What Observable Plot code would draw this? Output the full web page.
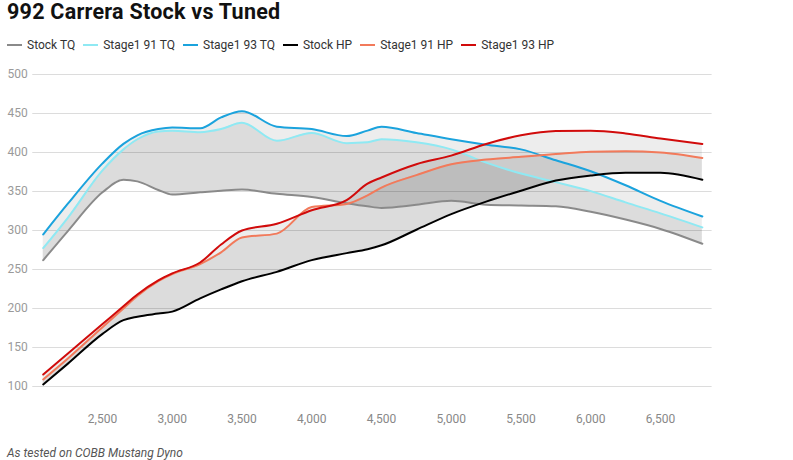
<!DOCTYPE html>
<html>
<head>
<meta charset="utf-8">
<script src="https://cdn.jsdelivr.net/npm/d3@7"></script>
<script src="https://cdn.jsdelivr.net/npm/@observablehq/plot@0.6"></script>
<style>
  html, body { margin: 0; padding: 0; background: #fff; font-family: Roboto, "Noto Sans", sans-serif; }
  #wrap { position: relative; width: 793px; height: 460px; overflow: hidden; }
  #title { position: absolute; left: 7px; top: -1px; font-size: 21.5px; font-weight: 700; color: #111; letter-spacing: 0.25px; }
  #legend { position: absolute; left: 7px; top: 38px; display: flex; font-size: 12px; color: #333; }
  .item { display: flex; align-items: center; margin-right: 8px; }
  .sw { width: 15px; height: 2.5px; margin-right: 5px; }
  #chart { position: absolute; left: 0; top: 60px; }
  #caption { position: absolute; left: 7px; top: 446px; font-size: 12px; font-style: italic; color: #555; }
</style>
</head>
<body>
<div id="wrap">
  <div id="title">992 Carrera Stock vs Tuned</div>
  <div id="legend"></div>
  <div id="chart"></div>
  <div id="caption">As tested on COBB Mustang Dyno</div>
</div>
<script>
const rpm      = [2075, 2250, 2500, 2650, 2750, 2900, 3000, 3200, 3350, 3500, 3750, 4000, 4250, 4400, 4500, 4750, 5000, 5250, 5500, 5750, 6000, 6250, 6500, 6800];
const stockTQ  = [262, 299, 349, 365, 363, 352, 346, 349, 351, 352.5, 347, 343, 335, 331, 329, 333, 338, 333, 332, 331, 324, 314, 302, 283];
const s91TQ    = [277.5, 316, 377, 404, 417, 427, 428, 426, 430, 438, 415, 425, 412, 413, 417, 413, 404, 387, 373, 362, 350.5, 336, 322, 304];
const s93TQ    = [295, 334, 386, 411, 422, 430, 432, 431, 445, 453, 433, 430, 421, 428, 433, 425, 417, 410, 404, 390, 376, 358, 338, 318];
const stockHP  = [102.6, 129, 167.5, 185, 189.5, 193.5, 196, 213, 224.5, 235, 247, 262, 271, 276, 281, 301, 321, 337, 351, 364, 370.5, 374, 374, 365];
const s91HP    = [109, 135.5, 176, 200, 216, 235, 244, 257, 272, 291, 296, 330, 334, 345, 355, 371, 385, 391, 394.5, 398, 401, 401.5, 400, 393];
const s93HP    = [115.4, 142, 180, 203, 218, 236, 245, 259, 282, 300, 308.6, 326, 339, 360, 368, 385, 396, 411, 422, 427.5, 428, 424.5, 418, 411];

const seriesNames  = ["Stock TQ", "Stage1 91 TQ", "Stage1 93 TQ", "Stock HP", "Stage1 91 HP", "Stage1 93 HP"];
const seriesValues = [stockTQ, s91TQ, s93TQ, stockHP, s91HP, s93HP];
const seriesColors = ["#8a8a8a", "#8fe9f3", "#1ba3dd", "#000000", "#f27a5b", "#d10b0b"];
const yTicks = [100, 150, 200, 250, 300, 350, 400, 450, 500];
const xTicks = [2500, 3000, 3500, 4000, 4500, 5000, 5500, 6000, 6500];

const rows = rpm.map((r, i) => ({
  rpm: r, stockTQ: stockTQ[i], s91TQ: s91TQ[i], s93TQ: s93TQ[i],
  stockHP: stockHP[i], s91HP: s91HP[i], s93HP: s93HP[i]
}));
const long = seriesNames.flatMap((name, k) => rpm.map((r, i) => ({ rpm: r, value: seriesValues[k][i], series: name })));

const curve = "monotone-x";
const bandOpacity = 0.072;

const chart = Plot.plot({
  width: 793,
  height: 380,
  marginLeft: 32.25,
  marginRight: 81.4,
  marginTop: 14,
  marginBottom: 54,
  x: { domain: [2000, 6870] },
  y: { domain: [100, 500] },
  color: { domain: seriesNames, range: seriesColors },
  style: { fontFamily: "Roboto, sans-serif", fontSize: "12px" },
  marks: [
    Plot.gridY(yTicks, { stroke: "#dcdcdc", strokeOpacity: 1 }),
    Plot.areaY(rows, { x: "rpm", y1: "stockTQ", y2: "s91TQ", fill: "#000", fillOpacity: bandOpacity, curve }),
    Plot.areaY(rows, { x: "rpm", y1: "stockTQ", y2: "s93TQ", fill: "#000", fillOpacity: bandOpacity, curve }),
    Plot.areaY(rows, { x: "rpm", y1: "stockHP", y2: "s91HP", fill: "#000", fillOpacity: bandOpacity, curve }),
    Plot.areaY(rows, { x: "rpm", y1: "stockHP", y2: "s93HP", fill: "#000", fillOpacity: bandOpacity, curve }),
    Plot.line(long, { x: "rpm", y: "value", z: "series", stroke: "series", strokeWidth: 2, curve }),
    Plot.axisY(yTicks, { tickSize: 0, tickPadding: 5, fill: "#9a9a9a", label: null }),
    Plot.axisX(xTicks, { tickSize: 0, tickPadding: 28, fill: "#888", label: null, tickFormat: d3.format(",") })
  ]
});
document.getElementById("chart").appendChild(chart);

const legend = document.getElementById("legend");
seriesNames.forEach((name, k) => {
  const it = document.createElement("div");
  it.className = "item";
  const sw = document.createElement("div");
  sw.className = "sw";
  sw.style.background = seriesColors[k];
  const tx = document.createElement("span");
  tx.textContent = name;
  it.appendChild(sw); it.appendChild(tx);
  legend.appendChild(it);
});
</script>
</body>
</html>
